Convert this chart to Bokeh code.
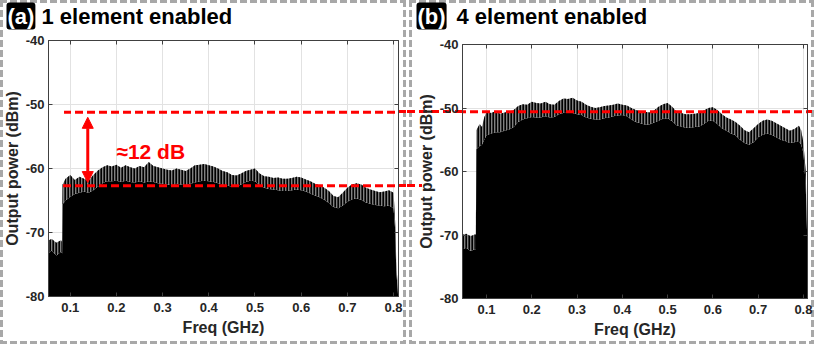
from bokeh.plotting import figure
from bokeh.layouts import row, column
from bokeh.models import (ColumnDataSource, FixedTicker, LinearAxis, Label,
                          BoxAnnotation, Arrow, NormalHead, Range1d)
from bokeh.embed import file_html
from bokeh.resources import INLINE

# ---------------- data ----------------
X_TICKS = [0.1, 0.2, 0.3, 0.4, 0.5, 0.6, 0.7, 0.8]
X_LABELS = ["0.1", "0.2", "0.3", "0.4", "0.5", "0.6", "0.7", "0.8"]
Y_TICKS = [-80, -70, -60, -50, -40]
Y_LABELS = ["-80", "-70", "-60", "-50", "-40"]

# panel (a): 1 element enabled  (GHz, dBm)
FREQ_A = [0.050, 0.060, 0.070, 0.080, 0.0825, 0.0835, 0.090, 0.100, 0.110, 0.120,
          0.130, 0.140, 0.150, 0.160, 0.170, 0.180, 0.190, 0.200, 0.210, 0.220,
          0.230, 0.240, 0.250, 0.260, 0.270, 0.280, 0.290, 0.300, 0.310, 0.320,
          0.330, 0.340, 0.350, 0.360, 0.370, 0.380, 0.390, 0.400, 0.410, 0.420,
          0.430, 0.440, 0.450, 0.460, 0.470, 0.480, 0.490, 0.500, 0.510, 0.520,
          0.530, 0.540, 0.550, 0.560, 0.570, 0.580, 0.590, 0.600, 0.610, 0.620,
          0.630, 0.640, 0.650, 0.660, 0.670, 0.680, 0.690, 0.700, 0.710, 0.720,
          0.730, 0.740, 0.750, 0.760, 0.770, 0.780, 0.790, 0.800, 0.803, 0.806, 0.810]
PEAK_A = [-71.3, -71.0, -71.6, -71.2, -71.5, -62.5, -61.6, -61.0, -61.8, -61.3,
          -61.6, -61.9, -61.0, -60.3, -59.8, -59.5, -59.7, -59.4, -59.9, -59.5,
          -59.8, -60.0, -59.6, -59.8, -59.0, -59.6, -59.8, -60.0, -60.2, -60.3,
          -60.0, -60.2, -60.4, -60.0, -59.5, -59.4, -59.3, -59.5, -59.7, -60.0,
          -60.4, -60.6, -61.0, -61.1, -60.8, -60.4, -60.2, -60.0, -60.8, -61.2,
          -61.3, -61.5, -61.4, -61.6, -61.6, -61.5, -61.3, -61.4, -61.7, -62.0,
          -62.4, -62.6, -63.0, -63.5, -64.3, -64.5, -63.8, -63.0, -62.5, -62.3,
          -62.5, -63.0, -63.3, -63.5, -63.7, -63.6, -63.4, -63.8, -67.5, -74.5, -80.0]
BODY_A = [-73.4, -72.8, -73.6, -73.0, -73.3, -65.6, -65.0, -64.4, -64.0, -63.8,
          -63.6, -63.8, -63.4, -62.8, -62.3, -62.0, -62.0, -61.9, -62.1, -61.9,
          -62.1, -62.2, -62.0, -62.2, -62.0, -62.1, -62.3, -62.4, -62.5, -62.6,
          -62.4, -62.5, -62.6, -62.4, -62.2, -62.0, -61.9, -62.0, -62.1, -62.3,
          -62.5, -62.7, -62.8, -62.8, -62.5, -62.1, -61.9, -62.0, -62.6, -63.0,
          -63.2, -63.3, -63.4, -63.5, -63.5, -63.4, -63.3, -63.4, -63.6, -63.9,
          -64.2, -64.5, -64.9, -65.4, -66.0, -66.2, -65.8, -65.2, -64.8, -64.7,
          -64.9, -65.3, -65.5, -65.7, -65.8, -65.9, -65.8, -66.2, -69.0, -76.0, -80.0]

# panel (b): 4 element enabled
FREQ_B = [0.045, 0.055, 0.065, 0.075, 0.0765, 0.0775, 0.085, 0.090, 0.095, 0.100,
          0.110, 0.120, 0.130, 0.140, 0.150, 0.160, 0.170, 0.180, 0.190, 0.200,
          0.210, 0.220, 0.230, 0.240, 0.250, 0.260, 0.270, 0.280, 0.290, 0.300,
          0.310, 0.320, 0.330, 0.340, 0.350, 0.360, 0.370, 0.380, 0.390, 0.400,
          0.410, 0.420, 0.430, 0.440, 0.450, 0.460, 0.470, 0.480, 0.490, 0.500,
          0.510, 0.520, 0.530, 0.540, 0.550, 0.560, 0.570, 0.580, 0.590, 0.600,
          0.610, 0.620, 0.630, 0.640, 0.650, 0.660, 0.670, 0.680, 0.690, 0.700,
          0.710, 0.720, 0.730, 0.740, 0.750, 0.760, 0.770, 0.780, 0.790, 0.795,
          0.800, 0.805, 0.809]
PEAK_B = [-70.0, -69.8, -70.2, -69.9, -70.0, -53.5, -52.5, -53.0, -51.5, -50.6,
          -50.8, -50.5, -50.9, -50.7, -50.6, -50.3, -49.7, -49.4, -49.5, -49.0,
          -49.2, -49.3, -49.0, -49.4, -49.5, -48.9, -48.5, -48.6, -48.4, -48.8,
          -49.0, -49.5, -49.8, -50.0, -49.9, -49.7, -49.6, -49.5, -49.3, -49.5,
          -49.6, -50.0, -50.3, -50.5, -50.6, -50.7, -50.4, -49.8, -49.4, -49.2,
          -49.8, -50.6, -50.8, -51.0, -51.0, -50.9, -50.8, -50.4, -50.0, -49.9,
          -50.3, -51.0, -51.5, -51.8, -52.2, -52.8, -53.5, -53.8, -53.2, -52.5,
          -52.0, -51.8, -52.0, -52.4, -52.8, -53.2, -53.6, -53.3, -52.8, -53.5,
          -55.5, -60.0, -70.0]
BODY_B = [-72.3, -72.0, -72.5, -72.2, -72.3, -56.5, -56.0, -55.8, -55.0, -54.3,
          -54.0, -53.8, -53.8, -53.6, -53.4, -53.0, -52.2, -51.8, -51.6, -51.4,
          -51.5, -51.5, -51.3, -51.5, -51.4, -51.0, -50.8, -50.7, -50.8, -51.0,
          -51.1, -51.5, -51.7, -51.8, -51.8, -51.6, -51.5, -51.3, -51.2, -51.1,
          -51.3, -51.8, -52.2, -52.4, -52.6, -52.6, -52.3, -52.0, -51.7, -51.6,
          -52.1, -52.7, -52.9, -53.1, -53.1, -53.0, -52.9, -52.5, -52.0, -52.0,
          -52.5, -53.2, -53.6, -54.0, -54.3, -55.0, -55.5, -55.8, -55.4, -54.6,
          -54.2, -54.0, -54.2, -54.6, -55.0, -55.2, -55.5, -55.4, -55.2, -55.8,
          -57.0, -62.0, -72.0]

# reference levels (dBm)
LEVEL_A_HIGH = -51.2
LEVEL_A_LOW = -62.7
LEVEL_B = -50.6
ARROW_X = 0.138
ARROW_TOP = -52.0
ARROW_BOTTOM = -62.2
ANNOT_TEXT = "≈12 dB"
ANNOT_X = 0.200
ANNOT_Y = -57.3

TAG_A, TITLE_A = "(a)", "1 element enabled"
TAG_B, TITLE_B = "(b)", "4 element enabled"

FONT = "Liberation Sans"
DARK = "#262626"
RED = "#ff0000"
GRID = "#e2e2e2"
BORDER = "#a8a8a8"
W = 407           # width of each panel
TH = 32           # height of the title strip
PH = 312          # height of the plot figure
TITLE_Y = 15.5    # vertical centre of the title texts in the strip
DASH_PX = 3       # thickness of the red dashed lines
# (left, right, top, bottom) borders of the two plot figures
BORD_A = (46, 9, 8, 48)
BORD_B = (55, 7, 12, 46)


def style_axis(ax, labels=True):
    ax.major_tick_in = 4
    ax.major_tick_out = 0
    ax.minor_tick_line_color = None
    ax.axis_line_color = "#404040"
    ax.major_tick_line_color = "#404040"
    if labels:
        ax.major_label_text_font = FONT
        ax.major_label_text_font_style = "bold"
        ax.major_label_text_font_size = "13px"
        ax.major_label_text_color = DARK
        ax.axis_label_text_font = FONT
        ax.axis_label_text_font_style = "bold"
        ax.axis_label_text_font_size = "16px"
        ax.axis_label_text_color = DARK
    else:
        ax.major_label_text_font_size = "1px"
        ax.major_label_text_color = None
        ax.major_label_standoff = 0


def title_strip(tag, title, tag_x, title_x):
    t = figure(width=W, height=TH, x_range=Range1d(0, W), y_range=Range1d(TH, 0),
               output_backend="svg", toolbar_location=None, title=None,
               x_axis_type=None, y_axis_type=None, frame_align=False,
               min_border_left=0, min_border_right=0, min_border_top=0, min_border_bottom=0)
    t.outline_line_color = None
    t.background_fill_color = None
    t.border_fill_color = None
    t.add_layout(Label(x=tag_x, y=TITLE_Y, text=tag, text_color="white", text_font=FONT,
                       text_font_style="bold", text_font_size="22px",
                       text_baseline="middle", background_fill_color="black",
                       padding=1, border_radius=3))
    t.add_layout(Label(x=title_x, y=TITLE_Y, text=title, text_color="black", text_font=FONT,
                       text_font_style="bold", text_font_size="22px",
                       text_baseline="middle"))
    return t


def level_px(level, borders):
    """vertical pixel position (inside the plot figure) of a dBm level"""
    top, bottom = borders[2], borders[3]
    frame_h = PH - top - bottom
    span = Y_TICKS[-1] - Y_TICKS[0]
    return top + (Y_TICKS[-1] - level) / span * frame_h


def css_strips(strips):
    """dashed strips painted behind the transparent figure margins"""
    imgs, sizes, pos = [], [], []
    for color, horiz, dash, gap, x0, y0, length, thick in strips:
        angle = "90deg" if horiz else "180deg"
        imgs.append("repeating-linear-gradient(%s, %s 0 %dpx, transparent %dpx %dpx)"
                    % (angle, color, dash, dash, dash + gap))
        w, h = (length, thick) if horiz else (thick, length)
        sizes.append("%dpx %dpx" % (w, h))
        pos.append("%dpx %dpx" % (x0, y0))
    return {"background-image": ", ".join(imgs), "background-size": ", ".join(sizes),
            "background-position": ", ".join(pos), "background-repeat": "no-repeat"}


def red_strips(segments):
    return css_strips([(RED, True, 8, 4, x0, round(yc - DASH_PX / 2), x1 - x0, DASH_PX)
                       for x0, x1, yc in segments])


def panel_border(x0, x1):
    H = TH + PH
    t = 3
    return css_strips([
        (BORDER, True, 7, 3, x0, 0, x1 - x0, t),
        (BORDER, True, 7, 3, x0, H - t, x1 - x0, t),
        (BORDER, False, 7, 3, x0, 0, H, t),
        (BORDER, False, 7, 3, x1 - t, 0, H, t),
    ])


def panel(freq, peak, body, x_range, borders):
    left, right, top, bottom = borders
    p = figure(width=W, height=PH, x_range=x_range, y_range=(Y_TICKS[0], Y_TICKS[-1]),
               output_backend="svg", toolbar_location=None, title=None, frame_align=False,
               min_border_left=left, min_border_right=right,
               min_border_top=top, min_border_bottom=bottom)
    p.background_fill_color = "white"
    p.border_fill_color = None
    p.outline_line_color = "#404040"
    p.outline_line_width = 1

    src = ColumnDataSource(dict(f=freq, peak=peak, body=body))
    p.varea(x="f", y1=Y_TICKS[0], y2="body", source=src, fill_color="black")
    p.varea(x="f", y1="body", y2="peak", source=src, fill_color="#808080",
            hatch_pattern="vertical_line", hatch_color="black",
            hatch_scale=3, hatch_weight=2.2)

    xt = FixedTicker(ticks=X_TICKS)
    yt = FixedTicker(ticks=Y_TICKS)
    p.xaxis.ticker = xt
    p.yaxis.ticker = yt
    p.xaxis.major_label_overrides = dict(zip(X_TICKS, X_LABELS))
    p.yaxis.major_label_overrides = dict(zip(Y_TICKS, Y_LABELS))
    p.xaxis.axis_label = "Freq (GHz)"
    p.yaxis.axis_label = "Output power (dBm)"
    for ax in p.xaxis:
        style_axis(ax)
        ax.major_label_standoff = 6
        ax.axis_label_standoff = 4
    for ax in p.yaxis:
        style_axis(ax)
        ax.major_label_standoff = 4
        ax.axis_label_standoff = 2
    ra = LinearAxis(ticker=yt)
    style_axis(ra, labels=False)
    p.add_layout(ra, "right")
    ta = LinearAxis(ticker=xt)
    style_axis(ta, labels=False)
    p.add_layout(ta, "above")

    p.xgrid.ticker = xt
    p.ygrid.ticker = yt
    p.xgrid.grid_line_color = GRID
    p.ygrid.grid_line_color = GRID
    return p


def red_dash(p, level, left, borders):
    frame_h = PH - borders[2] - borders[3]
    half = DASH_PX / 2 * (Y_TICKS[-1] - Y_TICKS[0]) / frame_h
    p.add_layout(BoxAnnotation(left=left, top=level + half, bottom=level - half,
                               fill_alpha=0, line_alpha=0,
                               hatch_pattern="vertical_line", hatch_color=RED,
                               hatch_scale=12, hatch_weight=8))


pa = panel(FREQ_A, PEAK_A, BODY_A, (0.053, 0.8107), BORD_A)
red_dash(pa, LEVEL_A_HIGH, 0.0866, BORD_A)
red_dash(pa, LEVEL_A_LOW, 0.078, BORD_A)
pa.add_layout(Arrow(x_start=ARROW_X, y_start=ARROW_BOTTOM, x_end=ARROW_X, y_end=ARROW_TOP,
                    line_color=RED, line_width=3,
                    start=NormalHead(size=11, fill_color=RED, line_color=RED),
                    end=NormalHead(size=11, fill_color=RED, line_color=RED)))
pa.add_layout(Label(x=ANNOT_X, y=ANNOT_Y, text=ANNOT_TEXT, text_color=RED, text_font=FONT,
                    text_font_style="bold", text_font_size="21px",
                    text_baseline="alphabetic"))

pb = panel(FREQ_B, PEAK_B, BODY_B, (0.047, 0.809), BORD_B)
red_dash(pb, LEVEL_B, None, BORD_B)

# continuation of the dashed lines through the plot margins
ya_hi = level_px(LEVEL_A_HIGH, BORD_A)
ya_lo = level_px(LEVEL_A_LOW, BORD_A)
yb_hi = level_px(LEVEL_B, BORD_B)
a_right = W - BORD_A[1]
b_left, b_right = BORD_B[0], W - BORD_B[1]
pa.styles = red_strips([(a_right, W, ya_hi), (a_right, W, ya_lo)])
pb.styles = red_strips([(0, b_left, yb_hi), (b_right, W - 2, yb_hi), (0, 15, ya_lo)])

col_a = column(title_strip(TAG_A, TITLE_A, 6, 41), pa, styles=panel_border(0, W - 1))
col_b = column(title_strip(TAG_B, TITLE_B, 9, 49), pb, styles=panel_border(2, W))

layout = row(col_a, col_b)
open("out.html", "w").write(file_html(layout, INLINE))
